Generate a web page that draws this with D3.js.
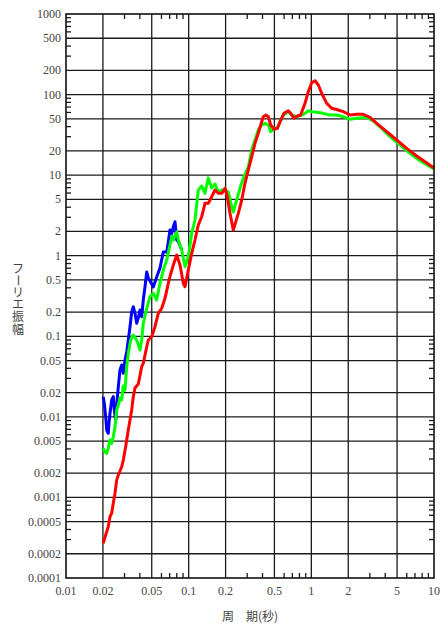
<!DOCTYPE html>
<html>
<head>
<meta charset="utf-8">
<script src="https://cdn.jsdelivr.net/npm/d3@7"></script>
<style>
  html, body { margin: 0; padding: 0; background: #fff; }
  svg { display: block; }
</style>
</head>
<body>
<svg id="chart" width="442" height="627"></svg>
<script>
// Fourier amplitude spectra — period (s) vs amplitude, log-log
const xTicks = [0.01, 0.02, 0.05, 0.1, 0.2, 0.5, 1, 2, 5, 10];
const xTickLabels = ["0.01", "0.02", "0.05", "0.1", "0.2", "0.5", "1", "2", "5", "10"];
const yTicks = [1000, 500, 200, 100, 50, 20, 10, 5, 2, 1, 0.5, 0.2, 0.1, 0.05, 0.02, 0.01, 0.005, 0.002, 0.001, 0.0005, 0.0002, 0.0001];
const yTickLabels = ["1000", "500", "200", "100", "50", "20", "10", "5", "2", "1", "0.5", "0.2", "0.1", "0.05", "0.02", "0.01", "0.005", "0.002", "0.001", "0.0005", "0.0002", "0.0001"];

const bluePeriod = [0.0201, 0.02052, 0.02107, 0.02147, 0.0221, 0.02241, 0.02284, 0.02358, 0.0243, 0.02476, 0.02542, 0.0259, 0.0267, 0.02755, 0.02845, 0.0293, 0.03027, 0.03125, 0.0322, 0.03325, 0.03432, 0.03537, 0.03651, 0.0377, 0.03885, 0.0401, 0.0414, 0.04267, 0.04406, 0.0455, 0.04688, 0.04996, 0.05148, 0.05487, 0.05836, 0.0621, 0.06622, 0.0682, 0.07042, 0.07272, 0.07492, 0.07739, 0.0799, 0.0823, 0.0877];
const blueAmp = [0.0178, 0.0147, 0.0100, 0.00686, 0.00625, 0.00831, 0.0111, 0.0162, 0.0178, 0.0122, 0.00914, 0.014, 0.0237, 0.0381, 0.044, 0.0347, 0.0507, 0.0638, 0.0899, 0.1315, 0.2, 0.233, 0.193, 0.145, 0.169, 0.212, 0.175, 0.282, 0.412, 0.628, 0.529, 0.446, 0.409, 0.544, 0.704, 1.11, 1.11, 1.48, 2.08, 1.86, 2.29, 2.64, 1.57, 1.5, 1.18];

const greenPeriod = [0.0201, 0.0208, 0.02147, 0.0221, 0.02284, 0.02358, 0.0243, 0.02509, 0.0259, 0.0267, 0.02755, 0.02845, 0.0293, 0.03027, 0.03125, 0.0322, 0.0337, 0.03537, 0.0377, 0.0401, 0.0414, 0.04267, 0.0455, 0.04839, 0.05148, 0.05487, 0.05836, 0.0621, 0.06622, 0.07042, 0.07313, 0.0749, 0.0799, 0.0823, 0.0877, 0.0934, 0.0993, 0.1059, 0.1126, 0.1198, 0.1277, 0.1359, 0.1445, 0.1541, 0.1639, 0.1743, 0.1859, 0.1978, 0.2104, 0.2243, 0.2311, 0.2463, 0.262, 0.2788, 0.3063, 0.3265, 0.3473, 0.3694, 0.3938, 0.419, 0.4459, 0.4664, 0.4961, 0.5278, 0.5553, 0.5907, 0.6489, 0.6918, 0.7597, 0.8344, 0.8879, 0.9445, 1.007, 1.106, 1.252, 1.419, 1.61, 1.822, 2.067, 2.343, 2.827, 3.2, 3.75, 4.377, 5.28, 6.37, 7.69, 10];
const greenAmp = [0.0041, 0.00366, 0.00353, 0.0041, 0.00516, 0.00469, 0.00567, 0.00754, 0.0122, 0.014, 0.0171, 0.0162, 0.0241, 0.0215, 0.0419, 0.0614, 0.0899, 0.1037, 0.0899, 0.0675, 0.0899, 0.145, 0.222, 0.31, 0.342, 0.282, 0.454, 0.664, 0.884, 1.358, 1.756, 1.566, 1.97, 1.566, 1.177, 0.731, 0.972, 1.897, 2.775, 6.54, 7.33, 5.95, 9.21, 6.92, 7.76, 6.18, 6.54, 6.54, 6.18, 4.06, 3.49, 4.91, 6.86, 9.14, 12.7, 20.5, 27.3, 36.3, 41.9, 44.0, 41.9, 34.6, 38.1, 38.1, 45.6, 55.8, 61.3, 55.8, 53.1, 55.8, 58.5, 63.1, 61.3, 60.3, 58.5, 55.8, 55.8, 53.1, 49.3, 50.8, 52.2, 47.0, 38.1, 30.0, 23.7, 18.7, 15.1, 11.9];

const redPeriod = [0.0201, 0.0208, 0.0221, 0.02284, 0.02358, 0.0243, 0.02509, 0.0259, 0.0267, 0.02845, 0.0293, 0.03066, 0.03125, 0.0322, 0.03325, 0.03432, 0.03537, 0.03651, 0.03885, 0.0414, 0.04267, 0.0455, 0.04688, 0.04996, 0.05315, 0.05653, 0.06027, 0.06412, 0.0682, 0.07042, 0.07492, 0.07992, 0.085, 0.09042, 0.0934, 0.0993, 0.1059, 0.1126, 0.1198, 0.1277, 0.1359, 0.1445, 0.1541, 0.1639, 0.1743, 0.1859, 0.1978, 0.2065, 0.2173, 0.2311, 0.2539, 0.2706, 0.2878, 0.3063, 0.3265, 0.3473, 0.3694, 0.3938, 0.4058, 0.4268, 0.4459, 0.4664, 0.4961, 0.5278, 0.5553, 0.5984, 0.6489, 0.6788, 0.7222, 0.7683, 0.819, 0.8879, 0.9445, 1.007, 1.071, 1.14, 1.215, 1.334, 1.466, 1.659, 1.822, 2.067, 2.343, 2.652, 3.008, 3.41, 4.115, 4.965, 5.99, 7.23, 10];
const redAmp = [0.000269, 0.000323, 0.000433, 0.000576, 0.00064, 0.000852, 0.00113, 0.00164, 0.0019, 0.0024, 0.00291, 0.00426, 0.00516, 0.00686, 0.00914, 0.0122, 0.0178, 0.0228, 0.0256, 0.0419, 0.0462, 0.0742, 0.0899, 0.0988, 0.1315, 0.193, 0.222, 0.296, 0.454, 0.549, 0.767, 1.02, 0.767, 0.454, 0.412, 0.664, 1.071, 1.566, 2.405, 3.05, 4.47, 4.47, 5.40, 6.54, 5.95, 5.95, 6.86, 5.40, 3.36, 2.08, 3.36, 4.91, 7.92, 11.6, 16.9, 24.8, 33.0, 46.0, 53.1, 55.8, 53.1, 41.9, 37.1, 38.1, 46.0, 58.5, 63.1, 58.5, 50.8, 54.2, 55.8, 77.9, 108.5, 140.4, 148.6, 131.4, 103.7, 77.9, 67.5, 64.3, 61.3, 55.8, 56.9, 56.9, 52.2, 44.0, 34.6, 27.3, 21.5, 17.3, 12.3];

const series = [
  { name: "blue", color: "#0000ff", period: bluePeriod, amp: blueAmp },
  { name: "green", color: "#00ff00", period: greenPeriod, amp: greenAmp },
  { name: "red", color: "#ff0000", period: redPeriod, amp: redAmp }
];

const yTitleChars = ["フ", "ー", "リ", "エ", "振", "幅"];

const plot = { left: 66, right: 434, top: 14, bottom: 578 };
const serifFont = "'Liberation Serif', 'DejaVu Serif', serif";
const cjkFont = "'Noto Sans CJK JP', 'Noto Sans CJK SC', sans-serif";

const svg = d3.select("#chart");
const x = d3.scaleLog().domain([0.01, 10]).range([plot.left, plot.right]);
const y = d3.scaleLog().domain([0.0001, 1000]).range([plot.bottom, plot.top]);

// minor ticks at 3,4,6,7,8,9 of each decade
function minorValues(lo, hi) {
  const out = [];
  for (let e = Math.round(Math.log10(lo)); e < Math.round(Math.log10(hi)); e++) {
    for (const m of [3, 4, 6, 7, 8, 9]) out.push(m * Math.pow(10, e));
  }
  return out;
}
const xMinor = minorValues(0.01, 10);
const yMinor = minorValues(0.0001, 1000);

const g = svg.append("g");

// grid lines
g.append("g").selectAll("line").data(xTicks.slice(1, -1)).join("line")
  .attr("x1", d => x(d)).attr("x2", d => x(d))
  .attr("y1", plot.top).attr("y2", plot.bottom)
  .attr("stroke", "#1a1a1a").attr("stroke-width", 1.3);
g.append("g").selectAll("line").data(yTicks.slice(1, -1)).join("line")
  .attr("y1", d => y(d)).attr("y2", d => y(d))
  .attr("x1", plot.left).attr("x2", plot.right)
  .attr("stroke", "#1a1a1a").attr("stroke-width", 1.3);

// minor ticks on all four sides, pointing inward
const tl = 5;
const tickG = g.append("g").attr("stroke", "#1a1a1a").attr("stroke-width", 1.3);
tickG.selectAll("line.xb").data(xMinor).join("line").attr("class", "xb")
  .attr("x1", d => x(d)).attr("x2", d => x(d)).attr("y1", plot.bottom).attr("y2", plot.bottom - tl);
tickG.selectAll("line.xt").data(xMinor).join("line").attr("class", "xt")
  .attr("x1", d => x(d)).attr("x2", d => x(d)).attr("y1", plot.top).attr("y2", plot.top + tl);
tickG.selectAll("line.yl").data(yMinor).join("line").attr("class", "yl")
  .attr("y1", d => y(d)).attr("y2", d => y(d)).attr("x1", plot.left).attr("x2", plot.left + tl);
tickG.selectAll("line.yr").data(yMinor).join("line").attr("class", "yr")
  .attr("y1", d => y(d)).attr("y2", d => y(d)).attr("x1", plot.right).attr("x2", plot.right - tl);

// spectra
const line = d3.line().x(d => x(d[0])).y(d => y(d[1])).curve(d3.curveLinear);
series.forEach(s => {
  const pts = s.period.map((p, i) => [p, s.amp[i]]);
  g.append("path").datum(pts)
    .attr("d", line)
    .attr("fill", "none")
    .attr("stroke", s.color)
    .attr("stroke-width", 3)
    .attr("stroke-linejoin", "round");
});

// frame
g.append("rect")
  .attr("x", plot.left).attr("y", plot.top)
  .attr("width", plot.right - plot.left).attr("height", plot.bottom - plot.top)
  .attr("fill", "none").attr("stroke", "#111").attr("stroke-width", 1.6);

// tick labels
svg.append("g").selectAll("text").data(xTicks).join("text")
  .attr("x", d => x(d)).attr("y", plot.bottom + 17)
  .attr("text-anchor", "middle")
  .style("font-family", serifFont).style("font-size", "12px").attr("fill", "#444")
  .text((d, i) => xTickLabels[i]);
svg.append("g").selectAll("text").data(yTicks).join("text")
  .attr("x", plot.left - 5).attr("y", d => y(d) + 4)
  .attr("text-anchor", "end")
  .style("font-family", serifFont).style("font-size", "12px").attr("fill", "#444")
  .text((d, i) => yTickLabels[i]);

// axis titles
svg.append("text")
  .attr("x", 250).attr("y", 621).attr("text-anchor", "middle")
  .style("font-family", cjkFont).style("font-size", "12px").attr("fill", "#444")
  .text("周　期(秒)");

// vertical title: one glyph per row in a single text element,
// the long-vowel mark turned a quarter turn so it stands upright
const fs = 12, rowH = 12.2, cx = 18, top0 = 268;
const xs = [], ys = [], rots = [];
yTitleChars.forEach((c, i) => {
  const cy = top0 + i * rowH;
  if (c === "ー") {
    xs.push(cx - 0.38 * fs); ys.push(cy - fs / 2); rots.push(90);
  } else {
    xs.push(cx - fs / 2); ys.push(cy + 0.38 * fs); rots.push(0);
  }
});
svg.append("text")
  .attr("x", xs.join(" ")).attr("y", ys.join(" ")).attr("rotate", rots.join(" "))
  .style("font-family", cjkFont).style("font-size", fs + "px")
  .attr("fill", "#444")
  .text(yTitleChars.join(""));
</script>
</body>
</html>
